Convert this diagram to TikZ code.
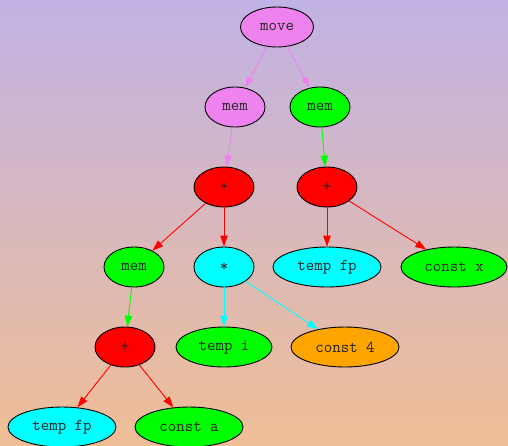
\documentclass[tikz,border=0pt]{standalone}
\usetikzlibrary{shapes.geometric,arrows.meta}
\definecolor{bgtop}{RGB}{192,178,228}
\definecolor{bgbot}{RGB}{240,190,150}
\definecolor{gvviolet}{RGB}{238,130,238}
\definecolor{gvgreen}{RGB}{0,255,0}
\definecolor{gvred}{RGB}{255,0,0}
\definecolor{gvcyan}{RGB}{0,255,255}
\definecolor{gvorange}{RGB}{255,165,0}
\tikzset{
  tn/.style={ellipse, draw=black, line width=0.9pt, inner sep=0pt, minimum height=40pt,
    font=\ttfamily\fontsize{16.5}{18}\selectfont, text=black!85},
  ar/.style={line width=0.9pt, -{Triangle[length=11pt,width=7.5pt]}},
}
\begin{document}
\begin{tikzpicture}[x=1pt,y=-1pt]
\shade[top color=bgtop, bottom color=bgbot] (0,0) rectangle (508,445);
\useasboundingbox (0,0) rectangle (508,445);
\node[tn, fill=gvviolet, minimum width=73pt] (move) at (277,27) {move};
\node[tn, fill=gvviolet, minimum width=60pt] (memL) at (235,107) {mem};
\node[tn, fill=gvgreen, minimum width=60pt] (memR) at (320,107) {mem};
\node[tn, fill=gvred, minimum width=60pt] (plusL) at (224,187) {+};
\node[tn, fill=gvred, minimum width=60pt] (plusR) at (327,187) {+};
\node[tn, fill=gvgreen, minimum width=60pt] (mem2) at (134,267) {mem};
\node[tn, fill=gvcyan, minimum width=60pt] (times) at (224,267) {*};
\node[tn, fill=gvcyan, minimum width=108pt] (tfpR) at (327,267) {temp fp};
\node[tn, fill=gvgreen, minimum width=106pt] (cx) at (454,267) {const x};
\node[tn, fill=gvred, minimum width=60pt] (plus2) at (125,347) {+};
\node[tn, fill=gvgreen, minimum width=96pt] (ti) at (224,347) {temp i};
\node[tn, fill=gvorange, minimum width=108pt] (c4) at (345,347) {const 4};
\node[tn, fill=gvcyan, minimum width=108pt] (tfpL) at (62,427) {temp fp};
\node[tn, fill=gvgreen, minimum width=108pt] (ca) at (189,427) {const a};
\draw[ar, gvviolet] (move) -- (memL);
\draw[ar, gvviolet] (move) -- (memR);
\draw[ar, gvviolet] (memL) -- (plusL);
\draw[ar, gvgreen] (memR) -- (plusR);
\draw[ar, gvred] (plusL) -- (mem2);
\draw[ar, gvred] (plusL) -- (times);
\draw[ar, gvred] (plusR) -- (tfpR);
\draw[ar, gvred] (plusR) -- (cx);
\draw[ar, gvgreen] (mem2) -- (plus2);
\draw[ar, gvcyan] (times) -- (ti);
\draw[ar, gvcyan] (times) -- (c4);
\draw[ar, gvred] (plus2) -- (tfpL);
\draw[ar, gvred] (plus2) -- (ca);
\end{tikzpicture}
\end{document}
